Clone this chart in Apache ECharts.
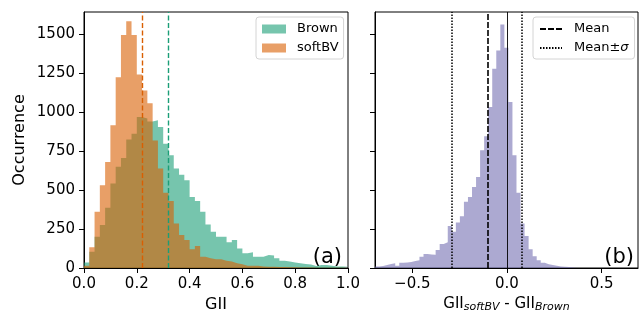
<!DOCTYPE html>
<html>
<head>
<meta charset="utf-8">
<script src="https://cdn.jsdelivr.net/npm/echarts@6/dist/echarts.min.js"></script>
<style>
  html, body { margin: 0; padding: 0; background: #fff; }
  #chart { width: 639px; height: 320px; }
</style>
</head>
<body>
<div id="chart"></div>
<script>
// GII histograms, 50 bins of 0.02 from 0 to 1
const giiStart = 0;
const giiWidth = 0.02;
const brownCounts = [35, 105, 201, 276, 387, 543, 650, 707, 825, 863,
  970, 961, 942, 949, 906, 799, 724, 639, 600, 564,
  457, 431, 361, 280, 233, 201, 201, 165, 180, 126,
  94, 101, 73, 73, 83, 80, 62, 47, 41, 35,
  30, 25, 22, 13, 19, 19, 15, 10, 10, 8];
const softbvCounts = [15, 133, 361, 532, 681, 917, 1226, 1498, 1586, 1498,
  1243, 1141, 1058, 820, 640, 483, 431, 286, 212, 180,
  120, 141, 73, 62, 56, 56, 47, 41, 30, 24,
  15, 15, 15, 10, 8, 8, 6, 6, 5, 5,
  4, 3, 3, 2, 2, 2, 1, 1, 1, 0];
// GII_softBV - GII_Brown histogram
const diffStart = -0.697;
const diffWidth = 0.02135;
const diffCounts = [9, 13, 19, 26, 30, 15, 34, 36, 38, 45,
  50, 73, 90, 86, 85, 115, 154, 165, 270, 233,
  293, 333, 425, 457, 521, 585, 756, 846, 1034, 1280,
  1397, 1564, 1415, 1066, 724, 483, 286, 205, 120, 75,
  50, 34, 24, 19, 15, 10, 8, 6, 4, 3];
const meanBrown = 0.323;
const meanSoftbv = 0.217;
const meanDiff = -0.101;
const sigmaDiff = 0.184;
const yTicks = [0, 250, 500, 750, 1000, 1250, 1500];
const giiTicks = [0, 0.2, 0.4, 0.6, 0.8, 1.0];
const diffTicks = [-0.5, 0, 0.5];

const FONT = 'DejaVu Sans';
const TEAL = 'rgba(27,158,119,0.6)';
const ORANGE = 'rgba(217,95,2,0.6)';
const PURPLE = 'rgba(117,112,179,0.6)';

// step outline points: each bin's left edge + closing right edge
function steps(start, width, counts) {
  const pts = counts.map((c, i) => [start + i * width, c]);
  pts.push([start + counts.length * width, 0]);
  return pts;
}

function histSeries(name, pts, color, xi) {
  return {
    name: name, type: 'line', step: 'end',
    xAxisIndex: xi, yAxisIndex: xi,
    data: pts, symbol: 'none', showSymbol: false, silent: true,
    lineStyle: { width: 0, opacity: 0 },
    itemStyle: { color: color },
    areaStyle: { color: color, opacity: 1 }
  };
}

function vline(x, color, type, width) {
  return { xAxis: x, lineStyle: { color: color, type: type, width: width } };
}

const fmt = v => (v < 0 ? '\u2212' : '') + Math.abs(v).toFixed(1);

const axisCommon = {
  axisLine: { show: true, onZero: false, lineStyle: { color: '#000', width: 1 } },
  axisTick: { show: true, length: 5, lineStyle: { color: '#000', width: 1 } },
  axisLabel: { color: '#000', fontFamily: FONT, fontSize: 15, margin: 9 },
  splitLine: { show: false }
};

const chart = echarts.init(document.getElementById('chart'), null, { renderer: 'canvas' });

const option = {
  animation: false,
  backgroundColor: '#fff',
  textStyle: { fontFamily: FONT },
  grid: [
    { left: 84, right: 291, top: 12, bottom: 52, show: true, borderColor: '#000', borderWidth: 1 },
    { left: 375, right: 1, top: 12, bottom: 52, show: true, borderColor: '#000', borderWidth: 1 }
  ],
  xAxis: [
    Object.assign({}, axisCommon, {
      type: 'value', gridIndex: 0, min: 0, max: 1,
      axisTick: Object.assign({}, axisCommon.axisTick, { customValues: giiTicks }),
      axisLabel: Object.assign({}, axisCommon.axisLabel, { customValues: giiTicks, formatter: fmt }),
      name: 'GII', nameLocation: 'middle', nameGap: 27,
      nameTextStyle: { color: '#000', fontFamily: FONT, fontSize: 16 }
    }),
    Object.assign({}, axisCommon, {
      type: 'value', gridIndex: 1, min: diffStart, max: 0.692,
      axisTick: Object.assign({}, axisCommon.axisTick, { customValues: diffTicks }),
      axisLabel: Object.assign({}, axisCommon.axisLabel, { customValues: diffTicks, formatter: fmt }),
      name: 'GII{s|softBV} - GII{s|Brown}', nameLocation: 'middle', nameGap: 27,
      nameTextStyle: {
        color: '#000', fontFamily: FONT, fontSize: 15,
        rich: { s: { fontFamily: FONT, fontSize: 11, fontStyle: 'italic', color: '#000',
          verticalAlign: 'bottom', padding: [6, 0, 0, 0] } }
      }
    })
  ],
  yAxis: [
    Object.assign({}, axisCommon, {
      type: 'value', gridIndex: 0, min: 0, max: 1645,
      axisTick: Object.assign({}, axisCommon.axisTick, { customValues: yTicks }),
      axisLabel: Object.assign({}, axisCommon.axisLabel, { customValues: yTicks, formatter: v => String(v) }),
      name: 'Occurrence', nameLocation: 'middle', nameGap: 56,
      nameTextStyle: { color: '#000', fontFamily: FONT, fontSize: 16 }
    }),
    Object.assign({}, axisCommon, {
      type: 'value', gridIndex: 1, min: 0, max: 1645,
      axisTick: Object.assign({}, axisCommon.axisTick, { customValues: yTicks }),
      axisLabel: { show: false }
    })
  ],
  legend: [
    {
      orient: 'vertical', left: 256, top: 17, selectedMode: false,
      data: [{ name: 'Brown', icon: 'rect' }, { name: 'softBV', icon: 'rect' }],
      itemWidth: 24, itemHeight: 9, itemGap: 5, padding: [5, 5, 4, 6],
      borderColor: '#d4d4d4', borderWidth: 1, borderRadius: 3,
      backgroundColor: 'rgba(255,255,255,0.8)',
      textStyle: { fontFamily: FONT, fontSize: 13, color: '#000', lineHeight: 14, padding: [0, 0, 0, 6] }
    },
    {
      orient: 'vertical', left: 533, top: 17, selectedMode: false,
      data: [
        { name: 'Mean', itemStyle: { opacity: 0 } },
        { name: 'Mean\u00b1\u03c3', itemStyle: { opacity: 0 } }
      ],
      formatter: n => n === 'Mean' ? n : 'Mean\u00b1{i|\u03c3}',
      itemWidth: 22, itemHeight: 9, itemGap: 5, padding: [5, 6, 4, 6],
      borderColor: '#d4d4d4', borderWidth: 1, borderRadius: 3,
      backgroundColor: 'rgba(255,255,255,0.8)',
      textStyle: { fontFamily: FONT, fontSize: 13, color: '#000', lineHeight: 14, padding: [0, 0, 0, 7],
        rich: { i: { fontFamily: FONT, fontSize: 13, fontStyle: 'italic', color: '#000' } } }
    }
  ],
  graphic: [
    { type: 'text', x: 342, y: 258, style: { text: '(a)', font: '21px "DejaVu Sans"', fill: '#000', textAlign: 'right', textVerticalAlign: 'middle' } },
    { type: 'text', x: 634, y: 258, style: { text: '(b)', font: '21px "DejaVu Sans"', fill: '#000', textAlign: 'right', textVerticalAlign: 'middle' } }
  ],
  series: [
    Object.assign(histSeries('Brown', steps(giiStart, giiWidth, brownCounts), TEAL, 0), {
      markLine: { silent: true, symbol: 'none', label: { show: false }, animation: false,
        data: [vline(meanBrown, '#1b9e77', [5, 2.5], 1.4)] }
    }),
    Object.assign(histSeries('softBV', steps(giiStart, giiWidth, softbvCounts), ORANGE, 0), {
      markLine: { silent: true, symbol: 'none', label: { show: false }, animation: false,
        data: [vline(meanSoftbv, '#d95f02', [5, 2.5], 1.4)] }
    }),
    Object.assign(histSeries('diff', steps(diffStart, diffWidth, diffCounts), PURPLE, 1), {
      markLine: { silent: true, symbol: 'none', label: { show: false }, animation: false,
        data: [vline(0, '#000', 'solid', 0.9)] }
    }),
    {
      name: 'Mean', type: 'line', xAxisIndex: 1, yAxisIndex: 1, data: [], symbol: 'none',
      lineStyle: { color: '#000', type: [6, 2], width: 1.6 }, itemStyle: { color: '#000' },
      markLine: { silent: true, symbol: 'none', label: { show: false }, animation: false,
        data: [vline(meanDiff, '#000', [6, 2], 1.6)] }
    },
    {
      name: 'Mean\u00b1\u03c3', type: 'line', xAxisIndex: 1, yAxisIndex: 1, data: [], symbol: 'none',
      lineStyle: { color: '#000', type: [1.5, 1.5], width: 1.5 }, itemStyle: { color: '#000' },
      markLine: { silent: true, symbol: 'none', label: { show: false }, animation: false,
        data: [vline(meanDiff - sigmaDiff, '#000', [1.5, 1.5], 1.5), vline(meanDiff + sigmaDiff, '#000', [1.5, 1.5], 1.5)] }
    }
  ]
};

chart.setOption(option);
</script>
</body>
</html>
